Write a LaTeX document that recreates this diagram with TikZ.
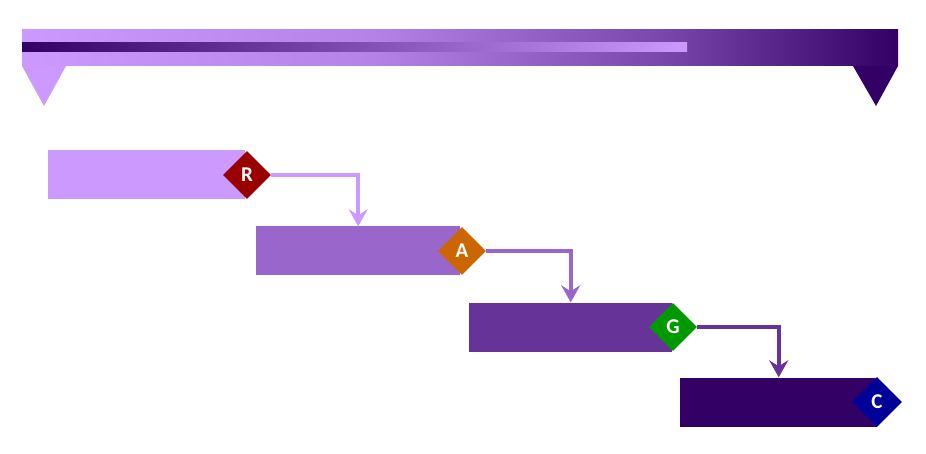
\documentclass[tikz,border=0pt]{standalone}
\usepackage{fontspec}
\setsansfont{Carlito}
\usetikzlibrary{shapes.geometric,arrows.meta}

\definecolor{lilac}{HTML}{CC99FF}
\definecolor{violet}{HTML}{9966CC}
\definecolor{plum}{HTML}{663399}
\definecolor{grape}{HTML}{330066}
\definecolor{rust}{HTML}{990000}
\definecolor{amber}{HTML}{CC6600}
\definecolor{leaf}{HTML}{009900}
\definecolor{navy}{HTML}{000099}

\pgfdeclarehorizontalshading{topbar}{100bp}{color(0bp)=(lilac); color(25bp)=(lilac); color(45bp)=(lilac!85!grape); color(62bp)=(lilac!45!grape); color(75bp)=(grape); color(100bp)=(grape)}
\pgfdeclarehorizontalshading{stripe}{100bp}{color(0bp)=(grape); color(25bp)=(grape); color(75bp)=(lilac); color(100bp)=(lilac)}

\begin{document}
\begin{tikzpicture}[x=1pt, y=-1pt,
    bar/.style={rectangle, minimum width=#1, minimum height=49pt, inner sep=0pt, anchor=west},
    gem/.style={diamond, minimum size=48pt, inner sep=0pt, text=white, font=\sffamily\bfseries\fontsize{21}{21}\selectfont},
    link/.style={line width=3.8pt, -{Stealth[length=17pt, width=19pt, inset=6pt]}}]
    \useasboundingbox (0, 0) rectangle (926, 454);

    % timeline band
    \shade[shading=topbar] (22, 30) rectangle (898, 66);
    \shade[shading=stripe] (22, 43) rectangle (687, 52);
    \fill[lilac] (22, 66) -- (66, 66) -- (44, 106) -- cycle;
    \fill[grape] (853, 66) -- (898, 66) -- (876, 106) -- cycle;

    % stages
    \node[bar=197pt, fill=lilac] (b1) at (48, 175) {};
    \node[bar=204pt, fill=violet] (b2) at (256, 251) {};
    \node[bar=203pt, fill=plum] (b3) at (469, 327) {};
    \node[bar=197pt, fill=grape] (b4) at (680, 402) {};

    \node[gem, fill=rust] (r) at (247, 175) {R};
    \node[gem, fill=amber] (a) at (462, 251) {A};
    \node[gem, fill=leaf] (g) at (673, 327) {G};
    \node[gem, fill=navy, minimum size=50pt] (c) at (877, 402) {C};

    \draw[link, lilac] (r.east) -| (b2.north);
    \draw[link, violet] (a.east) -| (b3.north);
    \draw[link, plum] (g.east) -| (b4.north);
\end{tikzpicture}
\end{document}
